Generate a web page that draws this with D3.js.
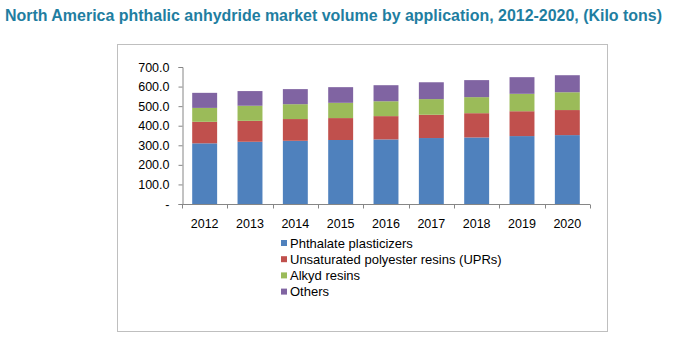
<!DOCTYPE html>
<html><head><meta charset="utf-8">
<script src="https://cdn.jsdelivr.net/npm/d3@7"></script>
<style>body{margin:0;background:#fff;}svg{display:block;}</style>
</head><body>
<script>
const years = ["2012","2013","2014","2015","2016","2017","2018","2019","2020"];
const seriesNames = ["Phthalate plasticizers","Unsaturated polyester resins (UPRs)","Alkyd resins","Others"];
const phthalate = [310,318,323,327,330,337,340,347,352];
const upr       = [110,107,111,112,119,119,124,127,128];
const alkyd     = [71,77,76,78,76,80,82,89,91];
const others    = [77,75,77,80,82,86,87,85,87];
const yTicks = [0,100,200,300,400,500,600,700];
const colors = ["#4F81BD","#C0504D","#9BBB59","#8064A2"];

const W=694,H=343;
const svg=d3.select("body").append("svg").attr("width",W).attr("height",H);
svg.append("text").attr("x",5).attr("y",21)
  .attr("font-family","Liberation Sans, Arial, sans-serif").attr("font-weight","bold")
  .attr("font-size",16).attr("fill","#1F7EA1")
  .attr("textLength",657).attr("lengthAdjust","spacingAndGlyphs")
  .text("North America phthalic anhydride market volume by application, 2012-2020, (Kilo tons)");

svg.append("rect").attr("x",117.5).attr("y",44.5).attr("width",490).attr("height",287)
  .attr("fill","none").attr("stroke","#BFBFBF");

const x=d3.scaleBand().domain(years).range([182,590]).paddingInner(0.45).paddingOuter(0.225);
const y=d3.scaleLinear().domain([0,700]).range([204,67]);

const rows=years.map((yr,i)=>({year:yr,s0:phthalate[i],s1:upr[i],s2:alkyd[i],s3:others[i]}));
const stack=d3.stack().keys(["s0","s1","s2","s3"])(rows);
svg.append("g").selectAll("g").data(stack).join("g").attr("fill",(d,i)=>colors[i])
  .selectAll("rect").data(d=>d).join("rect")
  .attr("x",d=>x(d.data.year)).attr("width",x.bandwidth())
  .attr("y",d=>y(d[1])).attr("height",d=>y(d[0])-y(d[1]));

const font="Liberation Sans, Arial, sans-serif";
// y axis
const ya=svg.append("g").attr("transform","translate(182.5,0)")
  .call(d3.axisLeft(y).tickValues(yTicks).tickSize(4).tickFormat(v=>v===0?"-":d3.format(".1f")(v)));
ya.select(".domain").attr("stroke","#868686");
ya.selectAll(".tick line").attr("stroke","#868686");
ya.selectAll("text").attr("font-family",font).attr("font-size",12.5).attr("fill","#000").attr("x",-13);
// x axis
const xa=svg.append("g").attr("transform","translate(0,204.5)");
xa.append("line").attr("x1",182).attr("x2",590).attr("stroke","#868686");
const bounds=d3.range(years.length+1).map(i=>182+i*(408/years.length));
xa.selectAll("line.t").data(bounds).join("line").attr("class","t")
  .attr("x1",d=>Math.round(d)+0.5).attr("x2",d=>Math.round(d)+0.5).attr("y1",0).attr("y2",4).attr("stroke","#868686");
xa.selectAll("text").data(years).join("text")
  .attr("x",d=>x(d)+x.bandwidth()/2).attr("y",23).attr("text-anchor","middle")
  .attr("font-family",font).attr("font-size",12.5).attr("fill","#000").text(d=>d);

// legend
const lg=svg.append("g").selectAll("g").data(seriesNames).join("g")
  .attr("transform",(d,i)=>`translate(281,${243+i*16.2})`);
lg.append("rect").attr("x",0).attr("y",-3).attr("width",6).attr("height",6).attr("fill",(d,i)=>colors[i]);
lg.append("text").attr("x",9).attr("y",4.5).attr("font-family",font).attr("font-size",13)
  .attr("fill","#000").text(d=>d);
</script>
</body></html>
